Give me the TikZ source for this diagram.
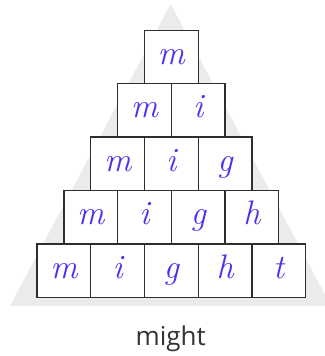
\documentclass[tikz,border=0pt]{standalone}
\usepackage{fontspec}
\newfontfamily\labelfont{Open Sans}
\definecolor{tri}{HTML}{EBEBEB}
\definecolor{ink}{HTML}{5030EE}
\definecolor{edge}{HTML}{2E2E2E}
\definecolor{lbl}{HTML}{333333}
\tikzset{
  cell/.style={draw=edge, line width=1.3pt, fill=white, minimum width=53.7pt, minimum height=53.4pt, inner sep=0pt, outer sep=0pt},
  letter/.style={text=ink, font=\fontsize{34}{34}\selectfont\itshape, inner sep=0pt, anchor=base},
  caption/.style={text=lbl, font=\labelfont\fontsize{26}{26}\selectfont, inner sep=0pt, anchor=base}
}
\begin{document}
\begin{tikzpicture}[x=1pt,y=-1pt]
\useasboundingbox (0,0) rectangle (324,356);
\fill[tri] (170.7,4) -- (331,306) -- (10,306) -- cycle;
\foreach \r in {0,...,4}{
  \foreach \c [count=\k from 0] in {m,i,g,h,t}{
    \ifnum\k>\r\else
      \pgfmathsetmacro{\xx}{171.3-(\r+1)*53.7/2+(\k+0.5)*53.7}
      \pgfmathsetmacro{\yy}{30.3+\r*53.4+26.7}
      \node[cell] (c\r\k) at (\xx,\yy) {};
      \node[letter] (t\r\k) at ([yshift=-7.5pt]c\r\k.center) {\c};
    \fi
  }
}
\node[caption] (cap) at (170.7,345.7) {might};
\end{tikzpicture}
\end{document}
